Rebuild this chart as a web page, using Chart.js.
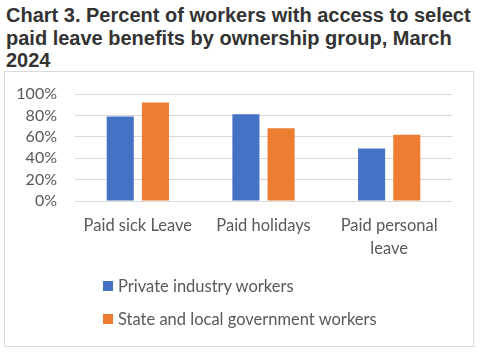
<!DOCTYPE html>
<html>
<head>
<meta charset="utf-8">
<script src="https://cdn.jsdelivr.net/npm/chart.js@4.4.1/dist/chart.umd.min.js"></script>
<style>
  body { margin: 0; background: #fff; width: 479px; height: 354px; position: relative; overflow: hidden; }
  #title { position: absolute; left: 6px; top: 4px; white-space: nowrap;
           font: bold 20px "Liberation Sans", Arial, sans-serif; line-height: 22.5px; color: #333; }
  #box { position: absolute; left: 4px; top: 71px; width: 468px; height: 274px; border: 1px solid #d9d9d9; }
  #box canvas { position: absolute; left: 0; top: 0; }
  #legend { position: absolute; left: 98px; top: 197px; font: 16.5px Lato, sans-serif; color: #595959; }
  #legend div { height: 33px; display: flex; align-items: center; white-space: nowrap; }
  #legend span { display: inline-block; width: 10px; height: 10px; margin-right: 5px; }
</style>
</head>
<body>
<div id="title">Chart 3. Percent of workers with access to select<br>paid leave benefits by ownership group, March<br>2024</div>
<div id="box">
  <canvas id="chart" width="468" height="274"></canvas>
  <div id="legend"></div>
</div>
<script>
// values
const categories = [['Paid sick Leave'], ['Paid holidays'], ['Paid personal', 'leave']];
const privateWorkers = [79, 81, 49];
const stateLocalWorkers = [92, 68, 62];
const yTicks = [0, 20, 40, 60, 80, 100];

const chart = new Chart(document.getElementById('chart'), {
    type: 'bar',
    data: {
        labels: categories,
        datasets: [{
            label: 'Private industry workers',
            data: privateWorkers,
            backgroundColor: '#4472C4',
            categoryPercentage: 0.56,
            barPercentage: 0.77
        }, {
            label: 'State and local government workers',
            data: stateLocalWorkers,
            backgroundColor: '#ED7D31',
            categoryPercentage: 0.56,
            barPercentage: 0.77
        }]
    },
    options: {
        responsive: false,
        animation: false,
        layout: { padding: { top: 22, right: 21, bottom: 85, left: 0 } },
        plugins: {
            legend: { display: false },
            tooltip: { enabled: false }
        },
        scales: {
            x: {
                grid: { display: false, drawTicks: false },
                border: { display: false },
                ticks: {
                    color: '#595959',
                    font: { family: 'Lato', size: 16.5, lineHeight: 1.4 },
                    padding: 13,
                    maxRotation: 0,
                    autoSkip: false
                },
                afterFit: s => { s.height = 60; }
            },
            y: {
                min: 0,
                max: 100,
                grid: { color: '#d9d9d9', drawTicks: false },
                border: { display: false },
                afterBuildTicks: s => { s.ticks = yTicks.map(v => ({ value: v })); },
                ticks: {
                    color: '#595959',
                    font: { family: 'Lato', size: 16 },
                    padding: 18,
                    autoSkip: false,
                    callback: v => v + '%'
                },
                // tick padding would otherwise push the plot down
                afterFit: s => { s.width = 70; s.paddingTop = 10; s.paddingBottom = 10; }
            }
        }
    }
});

// legend stacked like the original
const legend = document.getElementById('legend');
Chart.defaults.plugins.legend.labels.generateLabels(chart).forEach(item => {
    const row = document.createElement('div');
    const sw = document.createElement('span');
    sw.style.background = item.fillStyle;
    row.appendChild(sw);
    row.appendChild(document.createTextNode(item.text));
    legend.appendChild(row);
});
</script>
</body>
</html>
